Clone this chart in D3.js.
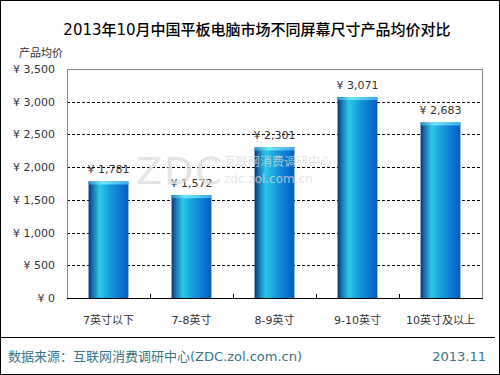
<!DOCTYPE html>
<html>
<head>
<meta charset="utf-8">
<script src="https://cdn.jsdelivr.net/npm/d3@7"></script>
<style>
  body { margin: 0; background: #fff; }
  svg text { font-family: "DejaVu Sans", "Noto Sans CJK SC", sans-serif; }
</style>
</head>
<body>
<svg id="chart" width="500" height="375"></svg>
<script>
'use strict';

// chart data
const categories = ['7英寸以下', '7-8英寸', '8-9英寸', '9-10英寸', '10英寸及以上'];
const prices = [1781, 1572, 2301, 3071, 2683];
const yTicks = [0, 500, 1000, 1500, 2000, 2500, 3000, 3500];

const svg = d3.select('#chart');
const W = 500, H = 375;
const margin = { left: 67, right: 18, top: 69, bottom: 77 };
const plotW = W - margin.left - margin.right;
const plotH = H - margin.top - margin.bottom;

const fmt = d => '¥ ' + d3.format(',')(d);

// gradient for bars
const defs = svg.append('defs');
const grad = defs.append('linearGradient').attr('id', 'barGrad')
  .attr('x1', 0).attr('x2', 1).attr('y1', 0).attr('y2', 0);
[[0, '#0a2f6a'], [0.08, '#1566a8'], [0.28, '#2cc8e8'], [0.5, '#17a2dc'], [0.8, '#0a76d0'], [1, '#075cbc']]
  .forEach(([o, c]) => grad.append('stop').attr('offset', o).attr('stop-color', c));
const capGrad = defs.append('linearGradient').attr('id', 'capGrad')
  .attr('x1', 0).attr('x2', 1).attr('y1', 0).attr('y2', 0);
[[0, '#2a8fd0'], [0.35, '#6eeafc'], [1, '#3aa8ee']]
  .forEach(([o, c]) => capGrad.append('stop').attr('offset', o).attr('stop-color', c));

// outer frame
svg.append('rect').attr('x', 0.5).attr('y', 0.5).attr('width', W - 1).attr('height', H - 1)
  .attr('fill', '#fff').attr('stroke', '#000');

// title
svg.append('text').attr('x', 257).attr('y', 35).attr('text-anchor', 'middle')
  .attr('font-size', 15).attr('font-weight', 500).attr('fill', '#000')
  .attr('font-family', '"Noto Sans CJK SC", sans-serif')
  .text('2013年10月中国平板电脑市场不同屏幕尺寸产品均价对比');

const x = d3.scaleBand().domain(categories).range([0, plotW]).paddingInner(0.52).paddingOuter(0.26);
const y = d3.scaleLinear().domain([0, 3500]).range([plotH, 0]);

const g = svg.append('g').attr('transform', `translate(${margin.left},${margin.top})`);

// watermark
const wm = svg.append('g').attr('fill', '#dcdcdc').attr('opacity', 0.75);
wm.append('text').attr('x', 136).attr('y', 184).attr('font-size', 38)
  .attr('font-family', '"Liberation Sans", sans-serif').attr('letter-spacing', 2).text('ZDC');
wm.append('text').attr('x', 224).attr('y', 166).attr('font-size', 12)
  .attr('font-family', '"Noto Sans CJK SC", sans-serif').text('互联网消费调研中心');
wm.append('text').attr('x', 224).attr('y', 183).attr('font-size', 12).text('zdc.zol.com.cn');

// gridlines
g.selectAll('line.grid').data(yTicks.filter(d => d > 0 && d < 3500)).join('line')
  .attr('class', 'grid')
  .attr('x1', 0).attr('x2', plotW)
  .attr('y1', d => Math.round(y(d)) + 0.5).attr('y2', d => Math.round(y(d)) + 0.5)
  .attr('stroke', '#000').attr('stroke-dasharray', '3,2');

// plot border
g.append('rect').attr('x', 0.5).attr('y', 0.5).attr('width', plotW).attr('height', plotH)
  .attr('fill', 'none').attr('stroke', '#888');

// y axis labels
g.selectAll('text.ytick').data(yTicks).join('text')
  .attr('class', 'ytick')
  .attr('x', -12).attr('y', d => y(d) + 4)
  .attr('text-anchor', 'end').attr('font-size', 11).attr('fill', '#333')
  .text(fmt);
svg.append('text').attr('x', 41).attr('y', 57).attr('text-anchor', 'middle')
  .attr('font-size', 11).attr('fill', '#333')
  .attr('font-family', '"Noto Sans CJK SC", sans-serif').text('产品均价');

// bars
const bars = g.selectAll('g.bar').data(prices).join('g').attr('class', 'bar');
bars.append('rect')
  .attr('x', (d, i) => x(categories[i]))
  .attr('y', d => y(d))
  .attr('width', x.bandwidth())
  .attr('height', d => plotH - y(d))
  .attr('fill', 'url(#barGrad)');
bars.append('rect')
  .attr('x', (d, i) => x(categories[i]))
  .attr('y', d => y(d))
  .attr('width', x.bandwidth())
  .attr('height', 3)
  .attr('fill', 'url(#capGrad)');
bars.append('text')
  .attr('x', (d, i) => x(categories[i]) + x.bandwidth() / 2)
  .attr('y', d => y(d) - 8)
  .attr('text-anchor', 'middle').attr('font-size', 11).attr('fill', '#333')
  .text(fmt);

// x axis line and ticks
g.append('line').attr('x1', 0).attr('x2', plotW + 1).attr('y1', plotH + 0.5).attr('y2', plotH + 0.5)
  .attr('stroke', '#000');
g.selectAll('line.xtick').data(d3.range(1, categories.length)).join('line')
  .attr('class', 'xtick')
  .attr('x1', i => Math.round(plotW / categories.length * i) + 0.5)
  .attr('x2', i => Math.round(plotW / categories.length * i) + 0.5)
  .attr('y1', plotH - 4).attr('y2', plotH)
  .attr('stroke', '#000');

// x labels
g.selectAll('text.xlab').data(categories).join('text')
  .attr('class', 'xlab')
  .attr('x', d => x(d) + x.bandwidth() / 2)
  .attr('y', plotH + 26)
  .attr('text-anchor', 'middle').attr('font-size', 11).attr('fill', '#333')
  .attr('font-family', '"Noto Sans CJK SC", sans-serif')
  .text(d => d);

// footer
svg.append('line').attr('x1', 1).attr('x2', 495).attr('y1', 337.5).attr('y2', 337.5)
  .attr('stroke', '#000');
svg.append('text').attr('x', 8).attr('y', 361).attr('font-size', 13).attr('fill', '#3a7585')
  .attr('font-family', '"Noto Sans CJK SC", sans-serif')
  .text('数据来源：互联网消费调研中心(ZDC.zol.com.cn)');
svg.append('text').attr('x', 486).attr('y', 361).attr('text-anchor', 'end')
  .attr('font-size', 13).attr('fill', '#3a7585').text('2013.11');
</script>
</body>
</html>
